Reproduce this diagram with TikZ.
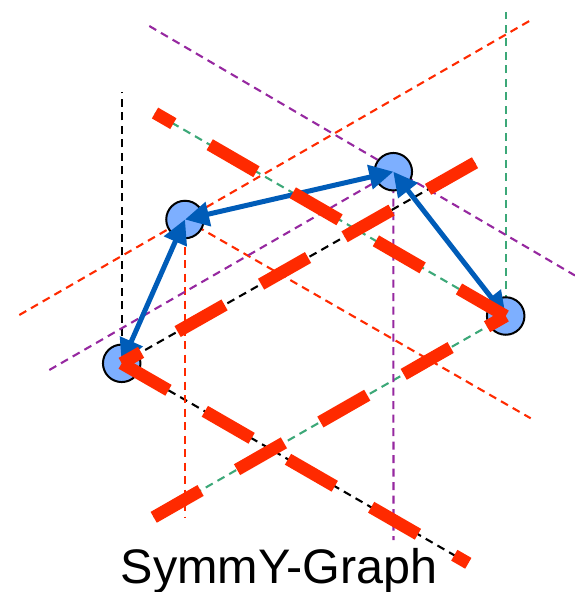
\documentclass[tikz,border=0pt]{standalone}
\usepackage{fontspec}
\setmainfont{Liberation Sans}
\usetikzlibrary{arrows.meta}
\definecolor{rd}{RGB}{255,42,0}
\definecolor{pur}{RGB}{150,40,160}
\definecolor{grn}{RGB}{60,168,120}
\definecolor{blu}{RGB}{0,92,184}
\definecolor{nodefill}{RGB}{125,175,255}
\begin{document}
\begin{tikzpicture}[x=1pt,y=-1pt,
  thinline/.style={line width=2.1pt, dash pattern=on 8pt off 5.5pt},
  thickred/.style={draw=rd, line width=12.5pt, dash pattern=on 54pt off 42pt},
  vtx/.style={circle, draw=black, line width=2pt, fill=nodefill, minimum size=37.5pt, inner sep=0pt},
  link/.style={draw=blu, line width=5pt, {Triangle[length=24pt,width=24pt]}-{Triangle[length=24pt,width=24pt]}}
]
\useasboundingbox (0,0) rectangle (575,592);
% positions
\coordinate (pa) at (121.7,363.3);
\coordinate (pb) at (185,219.5);
\coordinate (pc) at (393.3,171.7);
\coordinate (pd) at (505.7,316);
% ends of the long dashed lines
\coordinate (E1) at (155,113);
\coordinate (E2) at (153.7,517.3);
\coordinate (E3) at (475,162.7);
\coordinate (E4) at (468.3,563.3);
\coordinate (Ktop) at (121.7,91.7);
\coordinate (Gtop) at (505.7,11.7);
\coordinate (Oa) at (19.3,315);
\coordinate (Ob) at (532.3,19.3);
\coordinate (Oc) at (530.7,418.3);
\coordinate (Od) at (185,518);
\coordinate (Pa) at (149.3,26);
\coordinate (Pb) at (575,275.5);
\coordinate (Pc) at (49.3,370);
\coordinate (Pd) at (393.5,540);
% thin dashed lines
\draw[thinline, black] (pa) -- (Ktop);
\draw[thinline, black] (pa) -- (E3);
\draw[thinline, black] (pa) -- (E4);
\draw[thinline, grn] (pd) -- (Gtop);
\draw[thinline, grn] (pd) -- (E1);
\draw[thinline, grn] (pd) -- (E2);
\draw[thinline, rd] (Oa) -- (Ob);
\draw[thinline, rd] (pb) -- (Oc);
\draw[thinline, rd] (pb) -- (Od);
\draw[thinline, pur] (Pa) -- (Pb);
\draw[thinline, pur] (Pc) -- (pc);
\draw[thinline, pur] (pc) -- (Pd);
% vertices
\node[vtx] (A) at (pa) {};
\node[vtx] (B) at (pb) {};
\node[vtx] (C) at (pc) {};
\node[vtx] (D) at (pd) {};
% arrows
\draw[link] (A.center) -- (B.center);
\draw[link] (B.center) -- (C.center);
\draw[link] (C.center) -- (D.center);
% thick red dashed lines
\draw[thickred] (D.center) -- (E1);
\draw[thickred] (E2) -- (D.center);
\draw[thickred] (E3) -- (A.center);
\draw[thickred] (A.center) -- (E4);
% label
\node[anchor=base, font=\fontsize{48.5}{58}\selectfont, inner sep=0pt] (title) at (279,583) {SymmY-Graph};
\end{tikzpicture}
\end{document}
